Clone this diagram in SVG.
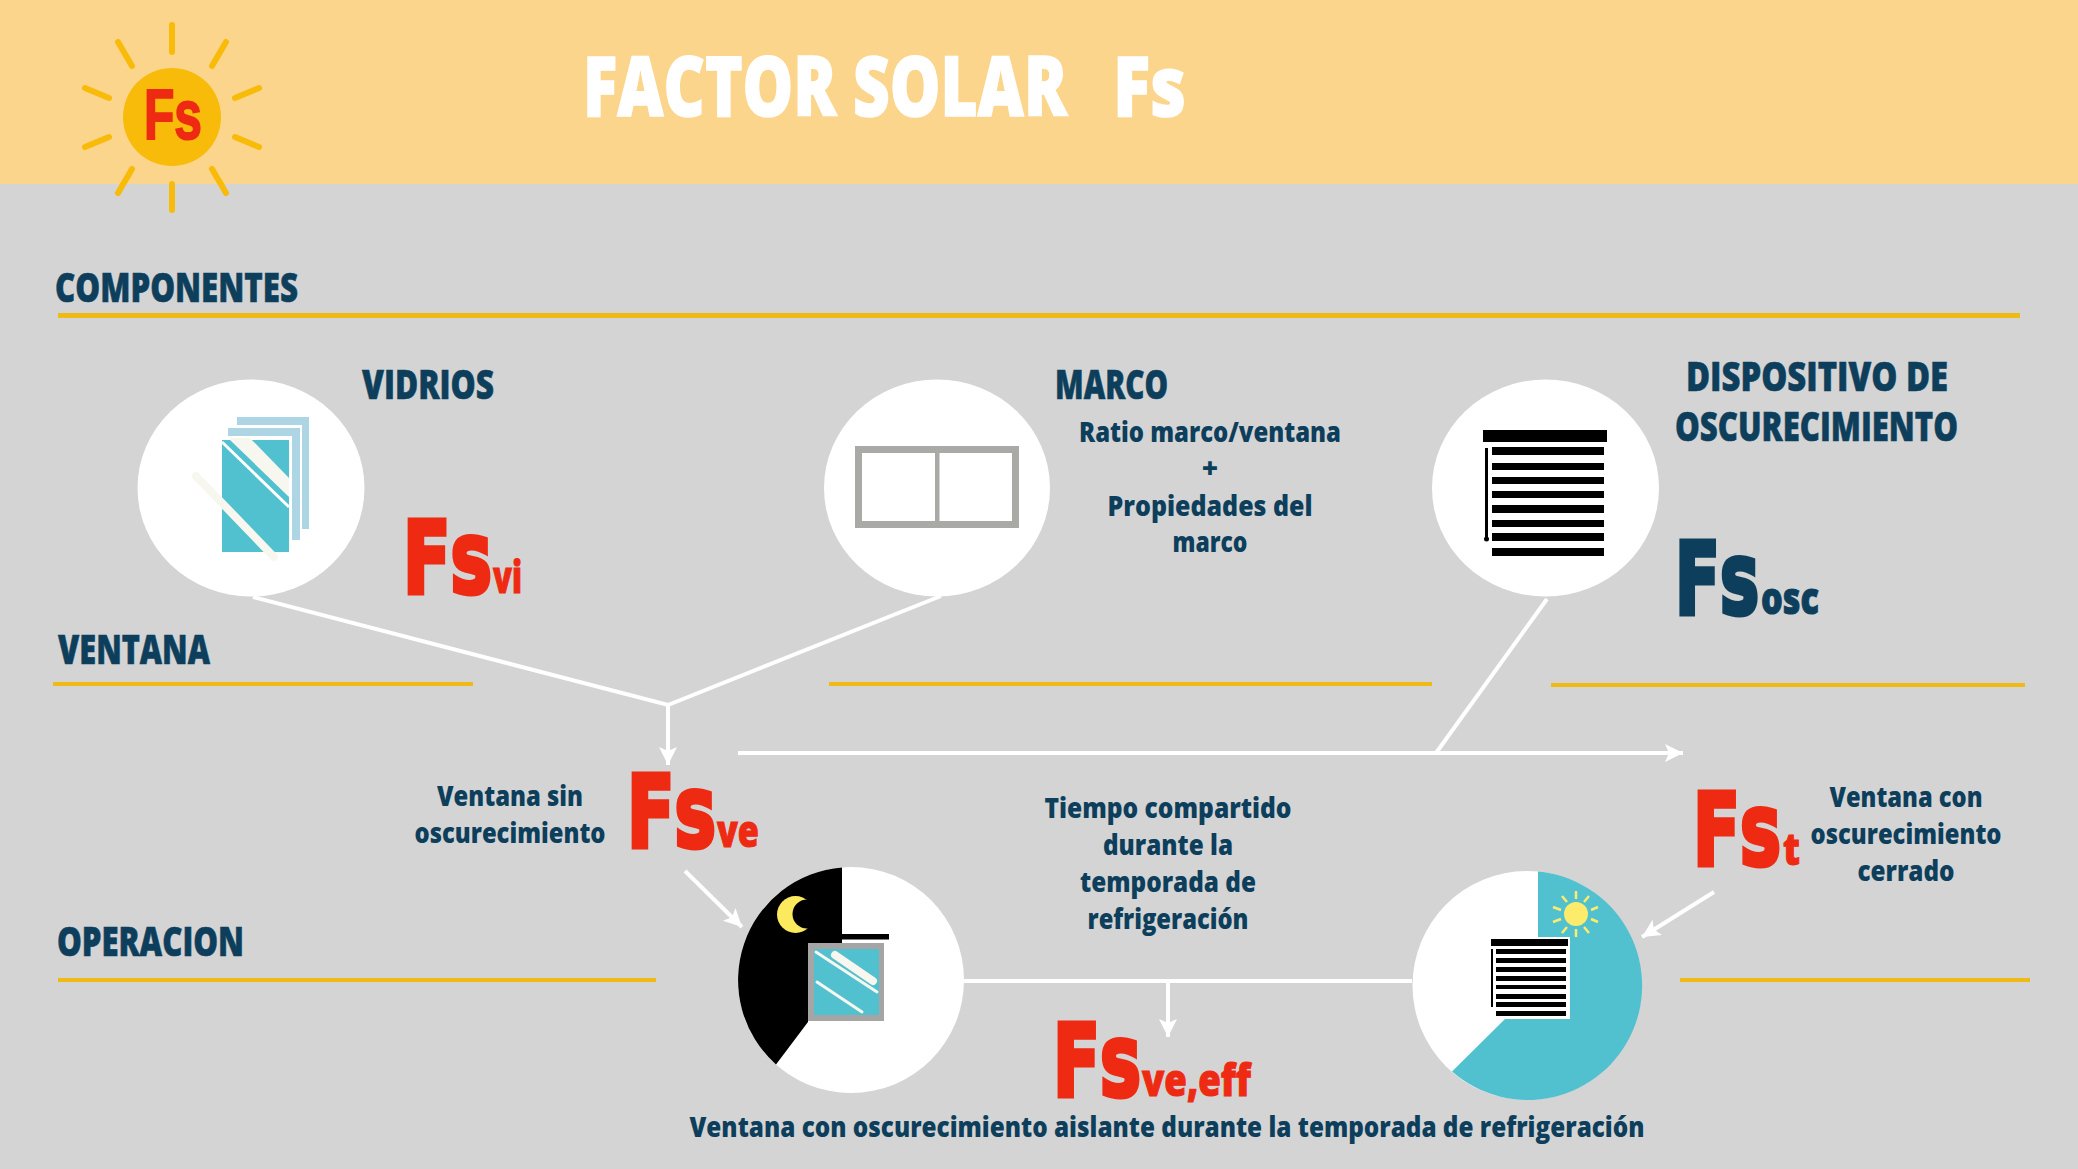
<svg xmlns="http://www.w3.org/2000/svg" width="2078" height="1169" viewBox="0 0 2078 1169">
<style>
text{font-family:"Open Sans","Liberation Sans",sans-serif;font-weight:800;white-space:pre}
.h{font-size:40px;fill:#0D3F5C;stroke:#0D3F5C;stroke-width:.6}
.l{font-size:28px;fill:#0D3F5C;text-anchor:middle}
.fs{font-family:"DejaVu Sans",sans-serif;font-weight:700;font-size:100px;stroke-width:5}
.sb{font-family:"Open Sans",sans-serif;font-weight:800;font-size:44px;stroke-width:1}
.red{fill:#EE2A12;stroke:#EE2A12}.navy{fill:#0D3F5C;stroke:#0D3F5C}
.rule{stroke:#F0BA15;stroke-width:4;fill:none}
.wire{stroke:#fff;stroke-width:4;fill:none}
.ray{stroke:#F9BB0A;stroke-width:6;stroke-linecap:round;fill:none}
.ray2{stroke:#FDEB6C;stroke-width:2.5;fill:none}
.disc{fill:#fff}
.k{fill:#000}
</style>
<defs>
<marker id="ah" markerUnits="userSpaceOnUse" markerWidth="22" markerHeight="20" refX="18" refY="9" orient="auto"><path d="M0 0L18 9L0 18L4 9Z" fill="#fff"/></marker>
</defs>
<rect width="2078" height="1169" fill="#D4D4D4"/>
<rect width="2078" height="184" fill="#FCD58C"/>
<g id="sun">
<path class="ray" d="M172 25V52M118 42L132 66M226 42L212 66M85 88L109 98M259 88L235 98M85 147L109 137M259 147L235 137M118 193L132 169M226 193L212 169M172 184V210"/>
<circle cx="172" cy="117" r="49" fill="#F9BB0A"/>
<text x="144" y="139" class="red" style="font-size:70px;font-family:'Liberation Sans',sans-serif;font-weight:700;stroke-width:2" textLength="58" lengthAdjust="spacingAndGlyphs">Fs</text>
</g>
<text id="title" y="116" fill="#fff" stroke="#fff" stroke-width="1.500" style="font-size:84px"><tspan x="583" textLength="484" lengthAdjust="spacingAndGlyphs">FACTOR SOLAR</tspan><tspan x="1113" textLength="73" lengthAdjust="spacingAndGlyphs">Fs</tspan></text>
<g id="section-labels">
<text class="h" x="55" y="302" textLength="243" lengthAdjust="spacingAndGlyphs">COMPONENTES</text>
<text class="h" x="58" y="664" textLength="152" lengthAdjust="spacingAndGlyphs">VENTANA</text>
<text class="h" x="57" y="956" textLength="187" lengthAdjust="spacingAndGlyphs">OPERACION</text>
</g>
<g id="rules">
<path class="rule" style="stroke-width:5" d="M58 315.500H2020"/>
<path class="rule" d="M53 684H473M829 684H1432M1551 685H2025M58 980H656M1680 980H2030"/>
</g>
<g id="connectors">
<path class="wire" d="M253 597L668 705L941 596"/>
<path class="wire" d="M668 705V765" marker-end="url(#ah)"/>
<path class="wire" d="M1547 599L1436 753"/>
<path class="wire" d="M738 753H1683" marker-end="url(#ah)"/>
<path class="wire" d="M685 871L742 927" marker-end="url(#ah)"/>
<path class="wire" d="M1714 892L1642 937" marker-end="url(#ah)"/>
<path class="wire" d="M964 981H1412"/>
<path class="wire" d="M1168 981V1037" marker-end="url(#ah)"/>
</g>
<g id="vidrios">
<ellipse class="disc" cx="251" cy="488" rx="113.500" ry="108.500"/>
<rect x="237" y="417" width="72" height="112" fill="#ADD5E3"/>
<rect x="226" y="425" width="76" height="117" fill="#fff"/>
<rect x="228" y="428" width="72" height="112" fill="#ADD5E3"/>
<rect x="219" y="436" width="73" height="119" fill="#fff"/>
<rect x="222" y="440" width="67" height="112" fill="#52C1CF"/>
<path d="M230 438H250L289 478V497L230 440Z" fill="#F7F6EF"/>
<path d="M222 442L289 507" stroke="#fff" stroke-width="3"/>
<path d="M196 476L274 557" stroke="#F7F6EF" stroke-width="8" stroke-linecap="round"/>
<text class="h" x="362" y="399" textLength="132" lengthAdjust="spacingAndGlyphs">VIDRIOS</text>
<text x="403" y="593" class="red"><tspan class="fs" textLength="89" lengthAdjust="spacingAndGlyphs">Fs</tspan><tspan class="sb" x="493" textLength="29" lengthAdjust="spacingAndGlyphs">vi</tspan></text>
</g>
<g id="marco">
<ellipse class="disc" cx="937" cy="488" rx="113" ry="108.500"/>
<rect x="858.500" y="449.500" width="157" height="75" fill="none" stroke="#A9A9A5" stroke-width="7"/>
<rect x="935" y="449" width="4.500" height="76" fill="#A9A9A5"/>
<text class="h" x="1055" y="399" textLength="113" lengthAdjust="spacingAndGlyphs">MARCO</text>
<text class="l" x="1210" y="442" textLength="262" lengthAdjust="spacingAndGlyphs">Ratio marco/ventana</text>
<text class="l" x="1210" y="478">+</text>
<text class="l" x="1210" y="516" textLength="205" lengthAdjust="spacingAndGlyphs">Propiedades del</text>
<text class="l" x="1210" y="552" textLength="75" lengthAdjust="spacingAndGlyphs">marco</text>
</g>
<g id="dispositivo">
<ellipse class="disc" cx="1545.500" cy="488" rx="113.500" ry="108.500"/>
<rect class="k" x="1483" y="430" width="124" height="12"/>
<path class="k" d="M1492 447h112v8h-112zM1492 463h112v7h-112zM1492 477h112v7h-112zM1492 491h112v7h-112zM1492 505h112v8h-112zM1492 520h112v7h-112zM1492 533h112v8h-112zM1492 548h112v8h-112z"/>
<rect class="k" x="1485" y="448" width="3" height="91"/><circle class="k" cx="1486.500" cy="539" r="2.500"/>
<text class="h" x="1686" y="391" textLength="262" lengthAdjust="spacingAndGlyphs">DISPOSITIVO DE</text>
<text class="h" x="1675" y="441" textLength="283" lengthAdjust="spacingAndGlyphs">OSCURECIMIENTO</text>
<text x="1675" y="614" class="navy"><tspan class="fs" textLength="84" lengthAdjust="spacingAndGlyphs">Fs</tspan><tspan class="sb" x="1761" textLength="58" lengthAdjust="spacingAndGlyphs">osc</tspan></text>
</g>
<g id="fsve">
<text class="l" x="510" y="806" textLength="146" lengthAdjust="spacingAndGlyphs">Ventana sin</text>
<text class="l" x="510" y="843" textLength="191" lengthAdjust="spacingAndGlyphs">oscurecimiento</text>
<text x="627" y="847" class="red"><tspan class="fs" textLength="89" lengthAdjust="spacingAndGlyphs">Fs</tspan><tspan class="sb" x="717" textLength="42" lengthAdjust="spacingAndGlyphs">ve</tspan></text>
</g>
<g id="fst">
<text class="l" x="1906" y="807" textLength="153" lengthAdjust="spacingAndGlyphs">Ventana con</text>
<text class="l" x="1906" y="844" textLength="191" lengthAdjust="spacingAndGlyphs">oscurecimiento</text>
<text class="l" x="1906" y="881" textLength="97" lengthAdjust="spacingAndGlyphs">cerrado</text>
<text x="1693" y="865" class="red"><tspan class="fs" textLength="88" lengthAdjust="spacingAndGlyphs">Fs</tspan><tspan class="sb" x="1783" textLength="17" lengthAdjust="spacingAndGlyphs">t</tspan></text>
</g>
<g id="noche">
<circle class="disc" cx="851" cy="980" r="113"/>
<path class="k" d="M842 867.400A113 113 0 0 0 776 1064.500L808 1022V943H842Z"/>
<rect class="k" x="842" y="934" width="47" height="5.500"/>
<rect x="808" y="943" width="76" height="78" fill="#A5A5A5"/>
<rect x="814" y="949" width="65" height="66" fill="#52C1CF"/>
<path d="M816 952L877 992M817 982L862 1012" stroke="#F7F6EF" stroke-width="3" stroke-linecap="round"/>
<path d="M835 955L873 981" stroke="#F7F6EF" stroke-width="8" stroke-linecap="round"/>
<circle cx="795.500" cy="914.500" r="18.500" fill="#FBEA5E"/>
<circle class="k" cx="807" cy="914" r="14.500"/>
</g>
<g id="tiempo">
<text class="l" x="1168" y="818" textLength="247" lengthAdjust="spacingAndGlyphs">Tiempo compartido</text>
<text class="l" x="1168" y="855" textLength="130" lengthAdjust="spacingAndGlyphs">durante la</text>
<text class="l" x="1168" y="892" textLength="176" lengthAdjust="spacingAndGlyphs">temporada de</text>
<text class="l" x="1168" y="929" textLength="161" lengthAdjust="spacingAndGlyphs">refrigeración</text>
</g>
<g id="dia">
<circle class="disc" cx="1527" cy="985.500" r="114.500"/>
<path d="M1538 871.500A114.500 114.500 0 1 1 1452 1071.500L1505 1019L1538 960Z" fill="#52C1CF"/>
<rect class="disc" x="1490" y="937" width="80" height="82"/>
<rect class="k" x="1491" y="939" width="77" height="7"/>
<path class="k" d="M1496 949h70v5h-70zM1496 958h70v5h-70zM1496 967h70v5h-70zM1496 976h70v5h-70zM1496 985h70v4h-70zM1496 994h70v5h-70zM1496 1002h70v5h-70zM1496 1011h70v5h-70z"/>
<rect class="k" x="1491" y="949" width="2" height="58"/>
<circle cx="1576" cy="914" r="12" fill="#FDEB6C"/>
<path class="ray2" d="M1576 891V899M1576 929V937M1562 896L1567 902M1589 896L1584 902M1553 907L1561 910M1598 907L1591 910M1553 922L1561 919M1598 922L1591 919M1562 933L1567 927M1589 933L1584 927"/>
</g>
<g id="fsveff">
<text x="1053" y="1096" class="red"><tspan class="fs" textLength="88" lengthAdjust="spacingAndGlyphs">Fs</tspan><tspan class="sb" x="1142" textLength="109" lengthAdjust="spacingAndGlyphs">ve,eff</tspan></text>
<text class="l" x="1167" y="1137" textLength="955" lengthAdjust="spacingAndGlyphs">Ventana con oscurecimiento aislante durante la temporada de refrigeración</text>
</g>
</svg>
